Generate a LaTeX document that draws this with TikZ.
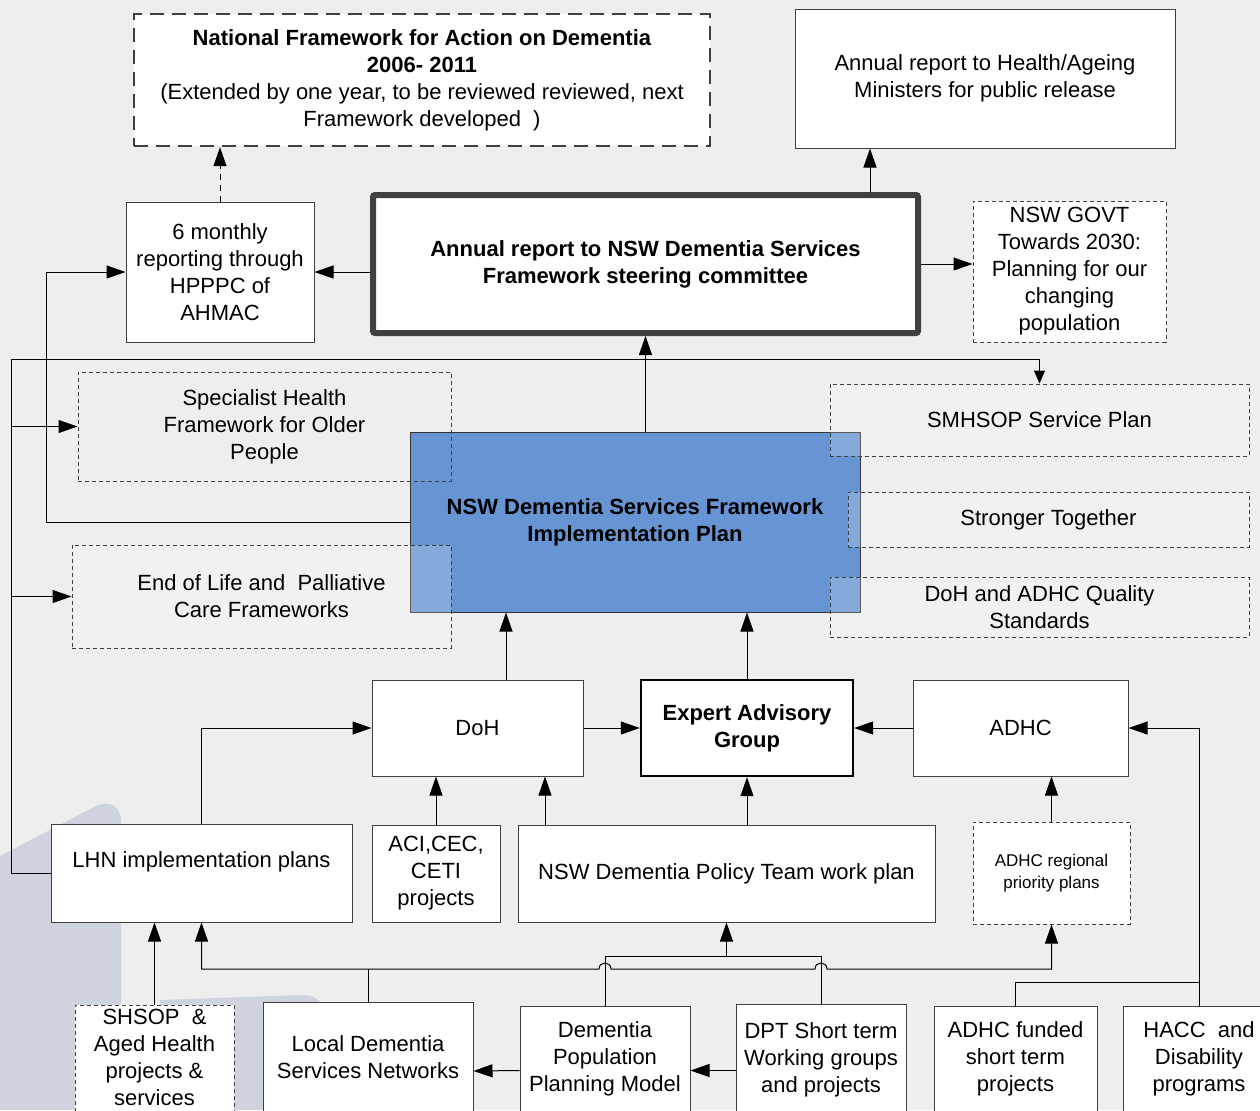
\documentclass[tikz,border=0pt]{standalone}
\usepackage{fontspec}
\setmainfont{Liberation Sans}
\usetikzlibrary{arrows.meta}
\definecolor{fondo}{RGB}{238,238,238}
\definecolor{marca}{RGB}{206,211,222}
\definecolor{azul}{RGB}{103,148,211}

\begin{document}
\begin{tikzpicture}[x=0.5pt,y=-0.5pt,
        font=\fontsize{11pt}{13.5pt}\selectfont,
        caja/.style={draw=black!75,line width=0.5pt,fill=white,align=center,inner sep=0pt},
        cajapunt/.style={draw=black!75,line width=0.5pt,dash pattern=on 2pt off 1.5pt,align=center,inner sep=0pt},
        velo/.style={fill=white,fill opacity=0.2,text opacity=1},
        flecha/.style={line width=0.5pt,-{Triangle[length=9.5pt,width=6.5pt]}},
        linea/.style={line width=0.5pt}]
        % Fondo y marca de agua
        \useasboundingbox (0,0) rectangle (1260,1110);
        \fill[fondo] (0,0) rectangle (1260,1110);
        \fill[marca] (0,856) -- (96,806) .. controls (110,800) and (121,806) .. (121,822) -- (121,1110) -- (0,1110) -- cycle;
        \fill[marca] (160,1000) -- (302,995) .. controls (316,995) and (323,1002) .. (323,1012) -- (323,1110) -- (160,1110) -- cycle;
        \clip (0,0) rectangle (1260,1110);

        % Fila de arriba
        \node[caja,line width=1.2pt,dash pattern=on 7pt off 4pt,minimum width=288pt,minimum height=66pt] (natfw) at (422,80)
            {\textbf{National Framework for Action on Dementia}\\\textbf{2006- 2011}\\(Extended by one year, to be reviewed reviewed, next\\Framework developed\ \ )};
        \node[caja,minimum width=190pt,minimum height=69.5pt] (ministers) at (985,78.5)
            {Annual report to Health/Ageing\\Ministers for public release};

        % Informes
        \node[caja,minimum width=94pt,minimum height=70pt] (sixm) at (220,272)
            {6 monthly\\reporting through\\HPPPC of\\AHMAC};
        \node[caja,line width=3pt,rounded corners=1pt,font=\fontsize{11pt}{13.5pt}\selectfont\bfseries,minimum width=272.5pt,minimum height=69pt] (annual) at (645.5,264)
            {Annual report to NSW Dementia Services\\Framework steering committee};
        \node[caja,dash pattern=on 2pt off 1.5pt,minimum width=96.5pt,minimum height=70.5pt] (govt) at (1069.5,271.5)
            {NSW GOVT\\Towards 2030:\\Planning for our\\changing\\population};

        % Plan central y marcos
        \node[draw=black!80,line width=0.5pt,fill=azul,align=center,font=\fontsize{11pt}{13.5pt}\selectfont\bfseries,minimum width=225pt,minimum height=90pt] (plan) at (635,522)
            {NSW Dementia Services Framework\\Implementation Plan};
        \node[cajapunt,minimum width=186.5pt,minimum height=54.5pt] (spec) at (264.5,426.5)
            {Specialist Health\\Framework for Older\\People};
        \node[cajapunt,velo,minimum width=189.5pt,minimum height=51.5pt] (eol) at (261.5,596.5)
            {End of Life and\ \ Palliative\\Care Frameworks};
        \node[cajapunt,velo,minimum width=209.5pt,minimum height=36pt] (smhsop) at (1039.5,420)
            {SMHSOP Service Plan};
        \node[cajapunt,velo,minimum width=200.5pt,minimum height=27.5pt] (stronger) at (1048.5,519.5)
            {Stronger Together};
        \node[cajapunt,velo,minimum width=209.5pt,minimum height=30pt] (quality) at (1039.5,607)
            {DoH and ADHC Quality\\Standards};

        % Fila del medio
        \node[caja,minimum width=105.5pt,minimum height=48pt] (doh) at (477.5,728) {DoH};
        \node[caja,draw=black,line width=1.2pt,font=\fontsize{11pt}{13.5pt}\selectfont\bfseries,minimum width=106pt,minimum height=48pt] (expert) at (747,728)
            {Expert Advisory\\Group};
        \node[caja,minimum width=107.5pt,minimum height=48pt] (adhc) at (1020.5,728) {ADHC};

        % Planes
        \node[caja,minimum width=150.5pt,minimum height=49pt] (lhn) at (201.5,873)
            {LHN implementation plans\\\phantom{L}};
        \node[caja,minimum width=64pt,minimum height=48.5pt] (aci) at (436,873.5)
            {ACI,CEC,\\CETI\\projects};
        \node[caja,minimum width=208.5pt,minimum height=48.5pt] (policy) at (726.5,873.5)
            {NSW Dementia Policy Team work plan};
        \node[caja,dash pattern=on 2pt off 1.5pt,font=\fontsize{8.5pt}{11pt}\selectfont,minimum width=78.5pt,minimum height=51pt] (regional) at (1051.5,873)
            {ADHC regional\\priority plans};

        % Fila de abajo (siguen por debajo del borde)
        \node[caja,dash pattern=on 2pt off 1.5pt,minimum width=79.5pt,minimum height=66pt] (shsop) at (154.5,1071)
            {SHSOP\ \ \&\\Aged Health\\projects \&\\services\\\phantom{L}};
        \node[caja,minimum width=105pt,minimum height=69pt] (local) at (368,1071)
            {Local Dementia\\Services Networks\\\phantom{L}};
        \node[caja,minimum width=85pt,minimum height=64.5pt] (dpp) at (605,1070.5)
            {Dementia\\Population\\Planning Model\\\phantom{L}};
        \node[caja,minimum width=85pt,minimum height=67.5pt] (dpt) at (821,1071.5)
            {DPT Short term\\Working groups\\and projects\\\phantom{L}};
        \node[caja,minimum width=81.5pt,minimum height=64.5pt] (funded) at (1015.5,1070.5)
            {ADHC funded\\short term\\projects\\\phantom{L}};
        \node[caja,minimum width=76pt,minimum height=64.5pt] (hacc) at (1199,1070.5)
            {HACC\ \ and\\Disability\\programs\\\phantom{L}};

        % Flechas de arriba
        \draw[flecha,dash pattern=on 3pt off 2.5pt] (sixm.north) -- (sixm.north |- natfw.south);
        \draw[flecha] (annual.west |- sixm.east) -- (sixm.east);
        \draw[flecha] (870,0 |- annual.north) -- (870,0 |- ministers.south);
        \draw[flecha] (annual.east) -- (annual.east -| govt.west);
        \draw[flecha] (annual.south |- plan.north) -- (annual.south);
        \draw[flecha] (plan.west) -- ++(-363,0) |- (sixm.west);

        % Linea exterior
        \draw[linea,-{Triangle[length=6.5pt,width=5.5pt]}] (lhn.west) -| (11,359) -| (smhsop.north);
        \draw[flecha] (spec.west -| 11,0) -- (spec.west);
        \draw[flecha] (eol.west -| 11,0) -- (eol.west);

        % Flechas del medio
        \draw[flecha] (506,0 |- doh.north) -- (506,0 |- plan.south);
        \draw[flecha] (expert.north) -- (expert.north |- plan.south);
        \draw[flecha] (doh.east) -- (expert.west);
        \draw[flecha] (adhc.west) -- (expert.east);
        \draw[flecha] (lhn.north) |- (doh.west);
        \draw[flecha] (aci.north) -- (aci.north |- doh.south);
        \draw[flecha] (545,0 |- policy.north) -- (545,0 |- doh.south);
        \draw[flecha] (expert.south |- policy.north) -- (expert.south);
        \draw[flecha] (regional.north) -- (regional.north |- adhc.south);
        \draw[flecha] (hacc.north) |- (adhc.east);
        \draw[linea] (funded.north) |- (hacc.north |- 0,982);

        % Flechas de abajo
        \draw[linea,{Triangle[length=9.5pt,width=6.5pt]}-{Triangle[length=9.5pt,width=6.5pt]}] (lhn.south) -- (lhn.south |- 0,969)
            -- (599,969) .. controls (599,961) and (611,961) .. (611,969)
            -- (815,969) .. controls (815,961) and (827,961) .. (827,969)
            -- (regional.south |- 0,969) -- (regional.south);
        \draw[linea] (local.north) -- (local.north |- 0,969);
        \draw[linea] (dpp.north) -- (dpp.north |- 0,956) -- (dpt.north |- 0,956) -- (dpt.north);
        \draw[flecha] (policy.south |- 0,956) -- (policy.south);
        \draw[flecha] (shsop.north) -- (shsop.north |- lhn.south);
        \draw[flecha] (dpp.west) -- (local.east);
        \draw[flecha] (dpt.west |- dpp.east) -- (dpp.east);
    \end{tikzpicture}
\end{document}
